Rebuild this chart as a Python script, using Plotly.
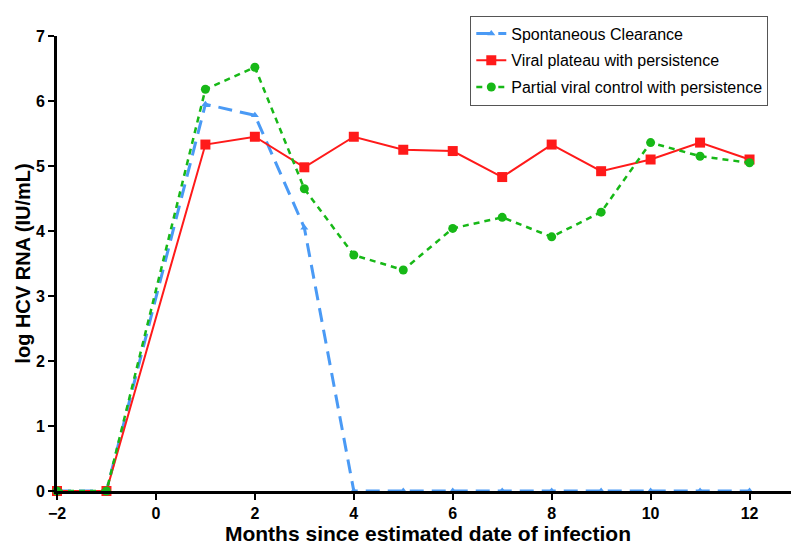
import plotly.graph_objects as go

months = [-2, -1, 1, 2, 3, 4, 5, 6, 7, 8, 9, 10, 11, 12]
spontaneous = [0, 0, 5.95, 5.78, 4.05, 0, 0, 0, 0, 0, 0, 0, 0, 0]
plateau = [0, 0, 5.33, 5.45, 4.98, 5.45, 5.25, 5.23, 4.83, 5.33, 4.92, 5.10, 5.36, 5.10]
partial = [0, 0, 6.18, 6.52, 4.65, 3.63, 3.40, 4.04, 4.21, 3.91, 4.29, 5.36, 5.15, 5.05]

x_ticks = [-2, 0, 2, 4, 6, 8, 10, 12]
y_ticks = [0, 1, 2, 3, 4, 5, 6, 7]

fig = go.Figure()
fig.add_trace(go.Scatter(
    x=months, y=spontaneous, name="Spontaneous Clearance", mode="lines+markers",
    legendgroup="a",
    line=dict(color="#4a9af5", width=3, dash="14px,8px"),
    marker=dict(symbol="triangle-up", size=7, color="#4a9af5"), cliponaxis=False))
fig.add_trace(go.Scatter(
    x=months, y=plateau, name="Viral plateau with persistence", mode="lines+markers",
    legendgroup="b",
    line=dict(color="#ff1a1a", width=2),
    marker=dict(symbol="square", size=10, color="#ff1a1a"), cliponaxis=False))
fig.add_trace(go.Scatter(
    x=months, y=partial, name="Partial viral control with persistence", mode="lines+markers",
    legendgroup="c",
    line=dict(color="#17b817", width=2.5, dash="6px,5px"),
    marker=dict(symbol="circle", size=9, color="#17b817"), cliponaxis=False))

fig.update_layout(
    width=799, height=550,
    margin=dict(l=49, r=8, t=19, b=67),
    plot_bgcolor="white", paper_bgcolor="white",
    font=dict(family="Liberation Sans, Arial, sans-serif", color="black"),
    showlegend=True,
    legend=dict(x=0.557, y=1.045, xanchor="left", yanchor="top",
                bordercolor="#555555", borderwidth=1, bgcolor="white",
                font=dict(size=16), traceorder="grouped", tracegroupgap=3,
                itemwidth=30),
    xaxis=dict(range=[-2, 13], tickvals=x_ticks, showgrid=False, zeroline=False,
               showline=True, linecolor="black", linewidth=3,
               ticks="outside", ticklen=6, tickwidth=2, tickcolor="black",
               tickfont=dict(size=16, family="Liberation Sans, Arial", weight="bold"),
               title=dict(text="<b>Months since estimated date of infection</b>",
                          font=dict(size=21), standoff=4)),
    yaxis=dict(range=[0, 7], tickvals=y_ticks, showgrid=False, zeroline=False,
               showline=True, linecolor="black", linewidth=3,
               ticks="outside", ticklen=6, tickwidth=2, tickcolor="black",
               tickfont=dict(size=16, family="Liberation Sans, Arial", weight="bold")),
    annotations=[dict(text="<b>log HCV RNA (IU/mL)</b>", xref="paper", yref="paper",
                      x=-0.047, y=0.5, xanchor="center", yanchor="middle",
                      textangle=-90, showarrow=False, font=dict(size=20))],
)
fig.write_html("out.html")
